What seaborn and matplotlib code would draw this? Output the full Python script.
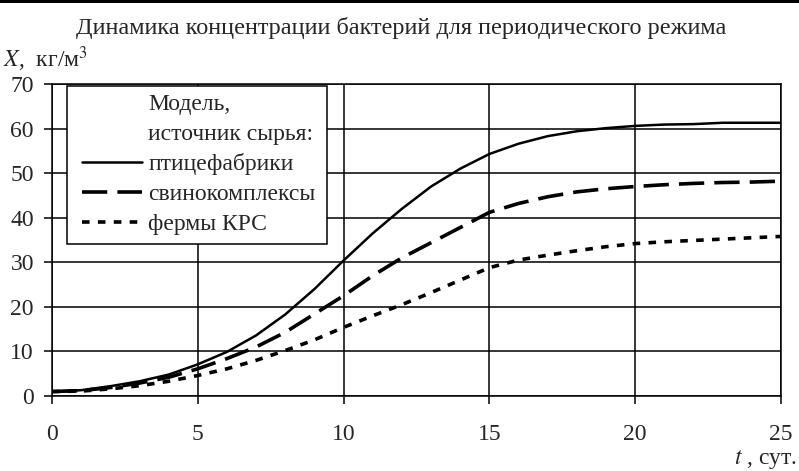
import numpy as np
import pandas as pd
import seaborn as sns
import matplotlib
matplotlib.use('Agg')
import matplotlib.pyplot as plt
from matplotlib.lines import Line2D
from matplotlib.patches import Rectangle

# time, days
t = list(range(0, 26))
# bacteria concentration X, kg/m3
poultry = [1.0, 1.3, 2.2, 3.3, 4.8, 7.1, 9.9, 13.6, 18.3, 24.0, 30.4, 36.5, 42.0, 47.0, 51.0,
           54.3, 56.6, 58.3, 59.4, 60.1, 60.6, 60.9, 61.0, 61.3, 61.3, 61.3]
pigs = [1.0, 1.2, 1.9, 2.9, 4.2, 6.1, 8.4, 11.0, 14.3, 18.4, 22.5, 27.0, 31.0, 34.4, 37.8,
        41.2, 43.2, 44.7, 45.8, 46.5, 47.0, 47.4, 47.7, 47.9, 48.0, 48.2]
cattle = [1.0, 1.1, 1.6, 2.3, 3.3, 4.6, 6.1, 8.0, 10.2, 12.6, 15.4, 18.0, 20.5, 23.2, 26.0,
          28.8, 30.5, 31.6, 32.6, 33.5, 34.2, 34.6, 34.9, 35.2, 35.5, 35.8]
labels = ['птицефабрики', 'свинокомплексы', 'фермы КРС']
legend_title = ['Модель,', 'источник сырья:']

x_ticks = [0, 5, 10, 15, 20, 25]
y_ticks = [0, 10, 20, 30, 40, 50, 60, 70]

df = pd.DataFrame({'t': t, labels[0]: poultry, labels[1]: pigs, labels[2]: cattle})

sns.set_theme(style='white')
plt.rcParams['font.family'] = ['Liberation Serif', 'DejaVu Serif']
plt.rcParams['mathtext.fontset'] = 'stix'

fig = plt.figure(figsize=(7.99, 4.71), dpi=100)
ax = fig.add_axes([52 / 799, 1 - 396 / 471, (781 - 52) / 799, (396 - 84) / 471])

styles = [dict(lw=1.8, linestyle='-'),
          dict(lw=2.6, linestyle=(0, (7.0, 2.8))),
          dict(lw=2.6, linestyle=(0, (2.1, 2.3)))]
for name, st in zip(labels, styles):
    sns.lineplot(data=df, x='t', y=name, ax=ax, color='black', label=name, **st)

ax.set_xlim(0, 25)
ax.set_ylim(0, 70)
ax.set_xticks(x_ticks)
ax.set_yticks(y_ticks)
ax.set_xlabel('')
ax.set_ylabel('')
ax.grid(True, color='black', lw=1.1)
for sp in ax.spines.values():
    sp.set_color('black')
    sp.set_linewidth(1.1)
ax.tick_params(axis='x', direction='out', length=6, width=1.1, color='black', pad=14, labelsize=17)
ax.tick_params(axis='y', direction='out', length=6, width=1.1, color='black', pad=7, labelsize=17)
ax.tick_params(left=True, bottom=True)

# legend: title lines as handle-less entries so they line up with the labels
handles, labs = ax.get_legend_handles_labels()
blank = [Line2D([], [], color='none') for _ in legend_title]
leg = ax.legend(blank + handles, legend_title + labs, loc='upper left',
                bbox_to_anchor=((82 - 52) / 729, (396 - 93) / 312), borderaxespad=0,
                fontsize=17, frameon=False, handlelength=2.55, handletextpad=0.26,
                labelspacing=0.36, borderpad=0)

# excel-like frame around the legend, wider on the left than on the top
fig.canvas.draw()
bb = leg.get_window_extent()
frame = Rectangle((bb.x0 - 15, bb.y0 - 9), bb.width + 26, bb.height + 16,
                  transform=None, facecolor='white', edgecolor='black', lw=1.1, zorder=4)
ax.add_artist(frame)
leg.set_zorder(5)

fig.text(0.502, 1 - 28 / 471, 'Динамика концентрации бактерий для периодического режима',
         ha='center', va='center', fontsize=17.5)
fig.text(3 / 799, 1 - 67 / 471, r'$X$,  кг/м$^3$', ha='left', va='baseline', fontsize=17)
fig.text(797 / 799, 1 - 464 / 471, r'$t$ , сут.', ha='right', va='baseline', fontsize=17)

fig.add_artist(Rectangle((0, 1 - 3 / 471), 1, 3 / 471, transform=fig.transFigure,
                         color='black', lw=0))

fig.savefig('out.png', dpi=100)
